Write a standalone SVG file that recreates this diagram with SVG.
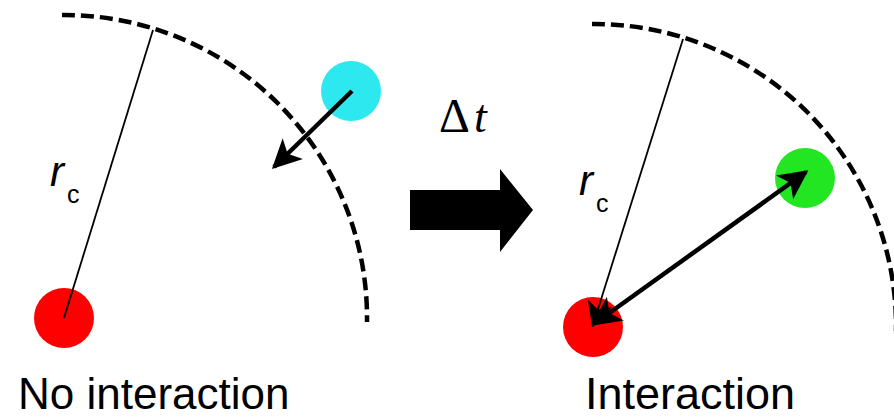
<svg xmlns="http://www.w3.org/2000/svg" width="894" height="419" viewBox="0 0 894 419">
<style>
.arc{fill:none;stroke:#000;stroke-width:4.5;stroke-dasharray:13 6}
.rad{stroke:#000;stroke-width:1.8;fill:none}
.vec{stroke:#000;stroke-width:4.5;fill:none}
.lbl{font-family:"Liberation Sans",Arial,sans-serif;fill:#000}
.sym{font-family:"Liberation Serif","Times New Roman",serif;fill:#000}
</style>
<defs>
<marker id="ah" viewBox="0 0 10 10" refX="9" refY="5" markerWidth="6.5" markerHeight="6.5" markerUnits="strokeWidth" orient="auto-start-reverse">
<path d="M0,0 L10,5 L0,10 L2.5,5 z" fill="#000"/>
</marker>
<marker id="ah2" viewBox="0 0 10 10" refX="9" refY="5" markerWidth="14" markerHeight="14" markerUnits="strokeWidth" orient="auto">
<path d="M0,0 L10,5 L0,10 L2.5,5 z" fill="#000"/>
</marker>
</defs>
<g id="left-panel">
<path class="arc" d="M62,15 A303,303 0 0 1 367,322"/>
<circle id="red-left" cx="64" cy="318" r="30" fill="#f00"/>
<circle id="cyan" cx="351" cy="91" r="30" fill="#2ee8f0"/>
<text class="lbl" x="50" y="186" font-size="42" font-style="italic">r</text>
<text class="lbl" x="67" y="203" font-size="25">c</text>
<text class="lbl" x="18" y="409" font-size="44">No interaction</text>
</g>
<g id="middle">
<text class="sym" x="439" y="132" font-size="48">Δ</text>
<text class="sym" x="474" y="132" font-size="46" font-style="italic">t</text>
<polygon points="410,190 500,190 500,169 533,210 500,252 500,230 410,230" fill="#000"/>
</g>
<g id="right-panel">
<path class="arc" d="M592,24 A302,302 0 0 1 896,331"/>
<circle id="red-right" cx="593" cy="327" r="30" fill="#f00"/>
<circle id="green" cx="805" cy="178" r="30" fill="#22e622"/>
<text class="lbl" x="579" y="195" font-size="42" font-style="italic">r</text>
<text class="lbl" x="596" y="212" font-size="25">c</text>
<text class="lbl" x="585" y="409" font-size="45">Interaction</text>
</g>
<g id="connectors">
<line class="rad" x1="153" y1="30" x2="64" y2="318"/>
<line class="vec" x1="352" y1="91" x2="274" y2="167" marker-end="url(#ah)"/>
<line class="rad" x1="683" y1="39" x2="593" y2="325" marker-end="url(#ah2)"/>
<line class="vec" x1="594" y1="324" x2="806" y2="172" marker-start="url(#ah)" marker-end="url(#ah)"/>
</g>
</svg>
